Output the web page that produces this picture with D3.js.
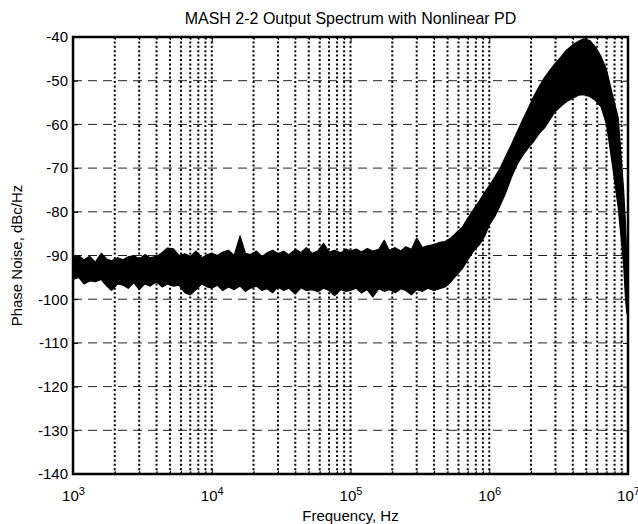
<!DOCTYPE html>
<html>
<head>
<meta charset="utf-8">
<script src="https://cdn.jsdelivr.net/npm/d3@7"></script>
<style>
  body { margin: 0; background: #fff; }
  text { font-family: "Liberation Sans", Arial, Helvetica, sans-serif; }
</style>
</head>
<body>
<div id="chart-container"></div>
<script>
// spectrum envelope (Hz, dBc/Hz)
const freqHz = [
  1000, 1100, 1200, 1320, 1450, 1600, 1750, 1900, 2100, 2300, 2500, 2750, 3000, 3300, 3600, 4000, 4400, 4800, 5300, 5800, 6400, 7000, 7700, 8500, 9300,
  10000, 11000, 12000, 13200, 14500, 16000, 17500, 19000, 21000, 23000, 25000, 27500, 30000, 33000, 36000, 40000, 44000, 48000, 53000, 58000, 64000, 70000, 77000, 85000, 93000,
  100000, 110000, 120000, 132000, 145000, 160000, 175000, 190000, 210000, 230000, 250000, 275000, 300000, 330000, 360000, 400000, 440000, 480000, 530000, 580000, 640000, 700000, 770000, 850000, 930000,
  1000000, 1100000, 1200000, 1320000, 1450000, 1600000, 1750000, 1900000, 2100000, 2300000, 2500000, 2750000, 3000000, 3300000, 3600000, 4000000, 4400000, 4800000, 5300000, 5800000, 6400000, 7000000, 7700000, 8500000, 9300000,
  9600000, 9800000, 10000000
];
const upperDb = [
  -90.5, -90.0, -91.0, -90.2, -91.5, -89.5, -90.8, -91.2, -90.5, -91.0, -90.3, -90.0, -90.8, -89.8, -90.5, -90.2, -89.3, -88.3, -88.5, -90.0, -89.6, -90.2, -89.0, -90.5, -89.8,
  -89.5, -90.0, -89.2, -88.8, -90.0, -85.5, -89.5, -89.8, -89.0, -90.2, -89.4, -88.8, -89.6, -89.0, -89.8, -88.6, -89.3, -88.2, -89.5, -89.0, -87.2, -89.2, -88.8, -89.4, -88.5,
  -89.0, -88.5, -89.2, -88.4, -89.0, -88.6, -86.5, -88.8, -88.2, -89.0, -88.0, -88.6, -86.0, -88.2, -87.8, -87.5, -87.0, -86.8, -86.0, -84.8, -83.5, -81.5, -79.5, -77.5, -75.5,
  -74.0, -72.0, -70.0, -67.2, -64.5, -61.5, -58.8, -56.5, -53.5, -51.2, -49.3, -47.5, -46.0, -44.5, -43.0, -41.8, -41.0, -40.4, -40.8, -42.2, -44.5, -47.5, -53.0, -58.5, -75.0,
  -83.0, -90.0, -100.0
];
const lowerDb = [
  -95.5, -95.0, -96.5, -95.8, -96.0, -95.5, -97.0, -98.0, -96.5, -96.8, -97.5, -96.2, -97.8, -96.5, -97.0, -96.0, -97.2, -96.5, -97.0, -96.8, -98.5, -99.0, -97.8, -96.5, -97.2,
  -97.5, -96.8, -98.0, -97.2, -97.8, -97.0, -98.2, -97.5, -97.0, -98.0, -97.6, -98.5, -97.2, -98.0, -97.5, -98.8, -97.4, -98.0, -97.8, -98.3, -97.5, -98.0, -99.2, -97.8, -98.2,
  -98.0, -97.5, -98.6, -97.8, -99.5, -97.6, -98.2, -97.8, -98.5, -97.6, -98.0, -99.0, -97.8, -98.2, -97.5, -98.0, -97.6, -97.2, -96.0, -94.5, -93.0, -91.0, -89.0, -87.5, -85.5,
  -83.0, -81.0, -78.5, -75.5, -72.0, -69.0, -67.0, -65.5, -63.8, -62.0, -60.8, -58.8, -57.0, -55.8, -54.8, -54.0, -53.3, -53.2, -53.6, -54.5, -56.0, -60.0, -69.0, -79.0, -92.0,
  -100.0, -103.0, -104.0
];

const yTicks = [-140, -130, -120, -110, -100, -90, -80, -70, -60, -50, -40];
const decadeTicks = [1e3, 1e4, 1e5, 1e6, 1e7];
const minorTicks = [];
decadeTicks.slice(0, -1).forEach(d => { for (let m = 2; m <= 9; m++) minorTicks.push(d * m); });

const width = 638;
const height = 524;
const marginTop = 37;
const marginRight = 10;
const marginBottom = 50;
const marginLeft = 73;

const x = d3.scaleLog()
    .domain([1e3, 1e7])
    .range([marginLeft, width - marginRight]);

const y = d3.scaleLinear()
    .domain([-140, -40])
    .range([height - marginBottom, marginTop]);

const svg = d3.select("#chart-container").append("svg")
    .attr("width", width)
    .attr("height", height)
    .attr("viewBox", [0, 0, width, height]);

// grid: dotted verticals at every decade subdivision, dashed horizontals
svg.append("g")
  .selectAll("line")
  .data(minorTicks.concat([1e4, 1e5, 1e6]))
  .join("line")
    .attr("x1", d => x(d)).attr("x2", d => x(d))
    .attr("y1", y(-40)).attr("y2", y(-140))
    .attr("stroke", "#000")
    .attr("stroke-width", 2)
    .attr("stroke-dasharray", "2,2.4");

svg.append("g")
  .selectAll("line")
  .data(yTicks.slice(1, -1))
  .join("line")
    .attr("x1", x(1e3)).attr("x2", x(1e7))
    .attr("y1", d => y(d)).attr("y2", d => y(d))
    .attr("stroke", "#222")
    .attr("stroke-width", 1)
    .attr("stroke-dasharray", "9,6");

// spectrum band
const spectrum = freqHz.map((f, i) => ({ f: f, hi: upperDb[i], lo: lowerDb[i] }));

const area = d3.area()
    .x(d => x(d.f))
    .y0(d => y(d.lo))
    .y1(d => y(d.hi));

svg.append("path")
    .datum(spectrum)
    .attr("fill", "#000")
    .attr("stroke", "#000")
    .attr("stroke-width", 1.2)
    .attr("stroke-linejoin", "round")
    .attr("d", area);

// axes
const fontSize = "15px";

const yAxis = svg.append("g")
    .attr("transform", `translate(${marginLeft},0)`)
    .call(d3.axisLeft(y).tickValues(yTicks).tickSize(-5).tickPadding(5).tickFormat(d => String(d)));
yAxis.selectAll("text").attr("font-size", fontSize).attr("fill", "#000");

svg.append("g")
    .attr("transform", `translate(${width - marginRight},0)`)
    .call(d3.axisRight(y).tickValues(yTicks).tickSize(-5).tickFormat(""));

const xAxis = svg.append("g")
    .attr("transform", `translate(0,${height - marginBottom})`)
    .call(d3.axisBottom(x).tickValues(decadeTicks).tickSize(-5).tickPadding(16));
xAxis.selectAll("text")
    .attr("font-size", fontSize)
    .attr("fill", "#000")
    .each(function(d) {
      const t = d3.select(this);
      t.text(null);
      t.append("tspan").text("10");
      t.append("tspan")
          .attr("dy", "-0.55em")
          .attr("font-size", "11px")
          .text(Math.round(Math.log10(d)));
    });

svg.append("g")
    .attr("transform", `translate(0,${height - marginBottom})`)
    .call(d3.axisBottom(x).tickValues(minorTicks).tickSize(-3).tickFormat(""));

svg.append("g")
    .attr("transform", `translate(0,${marginTop})`)
    .call(d3.axisTop(x).tickValues(decadeTicks).tickSize(-5).tickFormat(""));

svg.append("g")
    .attr("transform", `translate(0,${marginTop})`)
    .call(d3.axisTop(x).tickValues(minorTicks).tickSize(-3).tickFormat(""));

svg.selectAll(".domain").remove();
svg.selectAll(".tick line").attr("stroke", "#000").attr("stroke-width", 1);

// box
svg.append("rect")
    .attr("x", marginLeft)
    .attr("y", marginTop)
    .attr("width", width - marginRight - marginLeft)
    .attr("height", height - marginBottom - marginTop)
    .attr("fill", "none")
    .attr("stroke", "#000")
    .attr("stroke-width", 2.5);

// titles
svg.append("text")
    .attr("x", (marginLeft + width - marginRight) / 2)
    .attr("y", 24)
    .attr("text-anchor", "middle")
    .attr("font-size", "16px")
    .text("MASH 2-2 Output Spectrum with Nonlinear PD");

svg.append("text")
    .attr("x", (marginLeft + width - marginRight) / 2)
    .attr("y", 521)
    .attr("text-anchor", "middle")
    .attr("font-size", fontSize)
    .text("Frequency, Hz");

svg.append("text")
    .attr("transform", `translate(22,${(marginTop + height - marginBottom) / 2}) rotate(-90)`)
    .attr("text-anchor", "middle")
    .attr("font-size", fontSize)
    .text("Phase Noise, dBc/Hz");
</script>
</body>
</html>
